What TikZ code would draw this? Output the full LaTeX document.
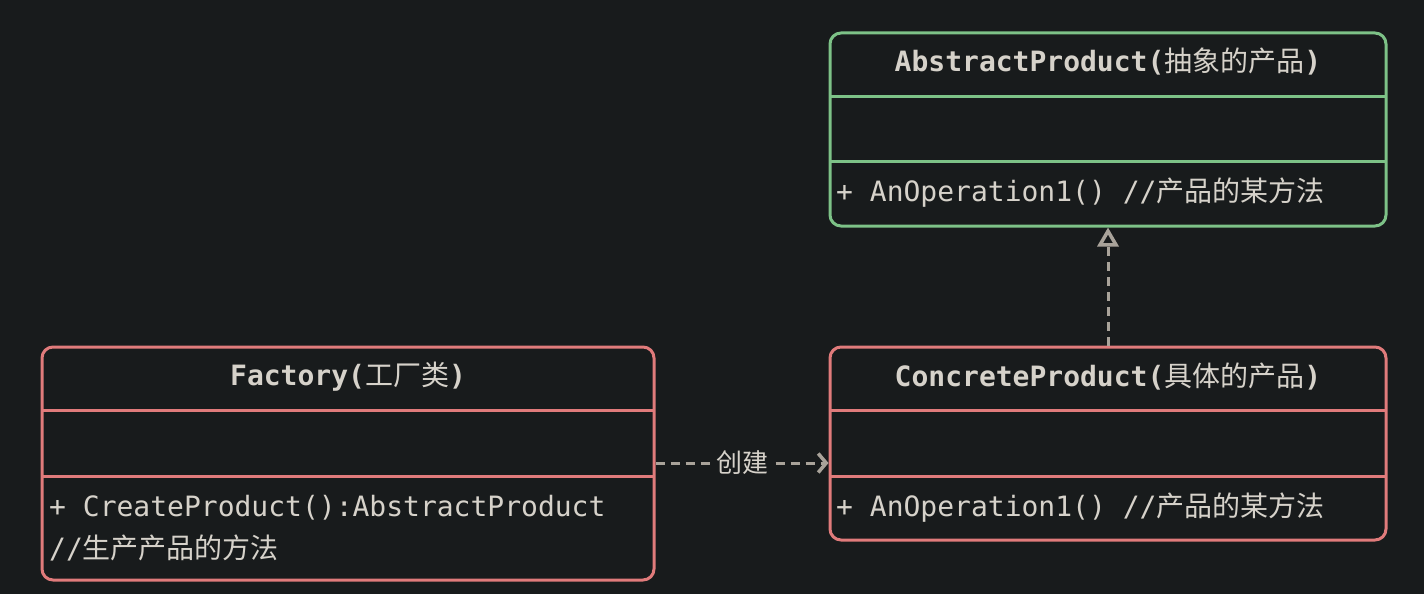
\documentclass[tikz,border=0pt]{standalone}
\usepackage{fontspec}
\setmonofont{DejaVu Sans Mono}
\newfontfamily\cjk{Noto Sans CJK SC}
\usetikzlibrary{arrows.meta}
\definecolor{bg}{HTML}{181B1C}
\definecolor{grn}{HTML}{7DC287}
\definecolor{rd}{HTML}{E07B7B}
\definecolor{txt}{HTML}{D6D2CA}
\definecolor{conn}{HTML}{A9A39A}
\tikzset{
  classbox/.style={draw, line width=3pt, rounded corners=11pt, minimum width=556pt, minimum height=193pt, inner sep=0pt},
  divider/.style={line width=3pt},
  titletext/.style={text=txt, font=\fontsize{28}{34}\selectfont\ttfamily\bfseries, inner sep=0pt},
  membertext/.style={text=txt, font=\fontsize{28}{34}\selectfont\ttfamily, inner sep=0pt, anchor=west},
  dep/.style={conn, line width=3pt, dash pattern=on 9pt off 6pt},
}
\begin{document}
\begin{tikzpicture}[x=1pt,y=-1pt]
\fill[bg] (0,0) rectangle (1424,594);
\useasboundingbox (0,0) rectangle (1424,594);
% AbstractProduct
\node[classbox, grn] (abs) at (1108,129.5) {};
\draw[grn, divider] (830,96) -- (1386,96);
\draw[grn, divider] (830,161) -- (1386,161);
\node[titletext] (abst) at (1108,62) {AbstractProduct({\mdseries\cjk 抽象的产品})};
\node[membertext] (absm) at (836,193) {+ AnOperation1() //{\cjk 产品的某方法}};
% ConcreteProduct
\node[classbox, rd] (con) at (1108,443.5) {};
\draw[rd, divider] (830,410) -- (1386,410);
\draw[rd, divider] (830,476) -- (1386,476);
\node[titletext] (cont) at (1108,377) {ConcreteProduct({\mdseries\cjk 具体的产品})};
\node[membertext] (conm) at (836,508) {+ AnOperation1() //{\cjk 产品的某方法}};
% Factory
\node[classbox, rd, minimum width=612pt, minimum height=233pt] (fac) at (348,463.5) {};
\draw[rd, divider] (42,410) -- (654,410);
\draw[rd, divider] (42,476) -- (654,476);
\node[titletext] (fact) at (348,377) {Factory({\mdseries\cjk 工厂类})};
\node[membertext] (facm1) at (49,508) {+ CreateProduct():AbstractProduct};
\node[membertext] (facm2) at (49,548) {//{\cjk 生产产品的方法}};
% connectors
\coordinate (fe) at (655.5,463);
\coordinate (cw) at (828.5,463);
\draw[dep, -{Straight Barb[length=8pt,width=19pt,line width=3.5pt]}] (fe) -- node[fill=bg, inner sep=2pt, text=txt, font=\fontsize{26}{30}\selectfont\cjk] (lbl) {创建} (cw);
\coordinate (cn) at (1108,345.5);
\coordinate (as) at (1108,227.5);
\draw[dep, -{Triangle[open,length=19pt,width=21pt,line width=3.5pt]}] (cn) -- (as);
\end{tikzpicture}
\end{document}
